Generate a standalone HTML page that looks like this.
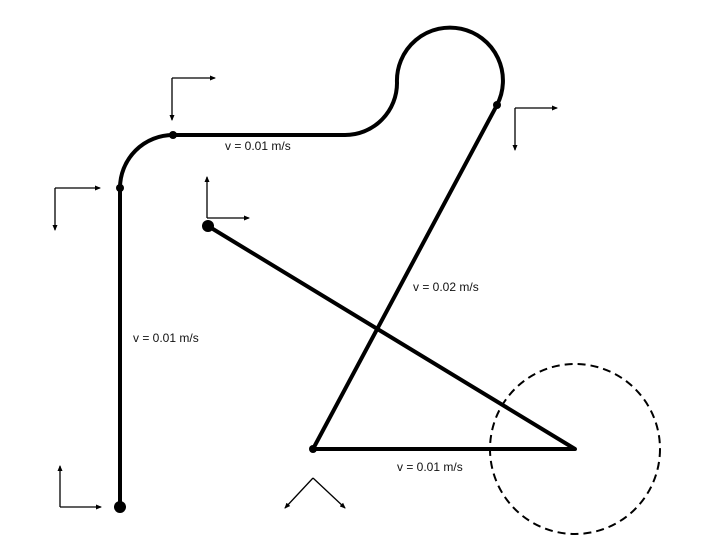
<!DOCTYPE html>
<html><head><meta charset="utf-8"><style>
html,body{margin:0;padding:0;background:#fff;width:707px;height:556px;overflow:hidden}
text{font-family:"Liberation Sans",sans-serif;font-size:12px;fill:#111}
</style></head><body>
<svg width="707" height="556" viewBox="0 0 707 556">
<defs><marker id="ah" markerWidth="6" markerHeight="6" refX="5" refY="3" orient="auto" markerUnits="userSpaceOnUse"><path d="M0,0.5 L6,3 L0,5.5z" fill="#000"/></marker></defs>
<g fill="none" stroke="#000" stroke-width="4" stroke-linecap="round" stroke-linejoin="round">
<path d="M120,507 L120,188 A53,53 0 0 1 173,135 L345,135 A52,52 0 0 0 397,83 A53,53 0 1 1 497,105 L313,449 L575,449 L208,226"/>
</g>
<circle cx="575" cy="449" r="85" fill="none" stroke="#000" stroke-width="2" stroke-dasharray="8,5"/>
<g fill="#000">
<circle cx="120" cy="507" r="6"/>
<circle cx="120" cy="188" r="4"/>
<circle cx="173" cy="135" r="4"/>
<circle cx="497" cy="105" r="4"/>
<circle cx="313" cy="449" r="4"/>
<circle cx="208" cy="226" r="6"/>
</g>
<g stroke="#000" stroke-width="1.3" fill="none" marker-end="url(#ah)">
<g><line x1="172" y1="78" x2="215" y2="78"/><line x1="172" y1="78" x2="172" y2="120"/></g>
<g><line x1="55" y1="188" x2="100" y2="188"/><line x1="55" y1="188" x2="55" y2="230"/></g>
<g><line x1="515" y1="108" x2="557" y2="108"/><line x1="515" y1="108" x2="515" y2="150"/></g>
<g><line x1="207" y1="218" x2="249" y2="218"/><line x1="207" y1="218" x2="207" y2="177"/></g>
<g><line x1="60" y1="507" x2="101" y2="507"/><line x1="60" y1="507" x2="60" y2="466"/></g>
<g><line x1="313" y1="478" x2="285" y2="508"/><line x1="313" y1="478" x2="345" y2="508"/></g>
</g>
<text x="225" y="150">v = 0.01 m/s</text>
<text x="413" y="291">v = 0.02 m/s</text>
<text x="133" y="342">v = 0.01 m/s</text>
<text x="397" y="471">v = 0.01 m/s</text>
</svg>
</body></html>
